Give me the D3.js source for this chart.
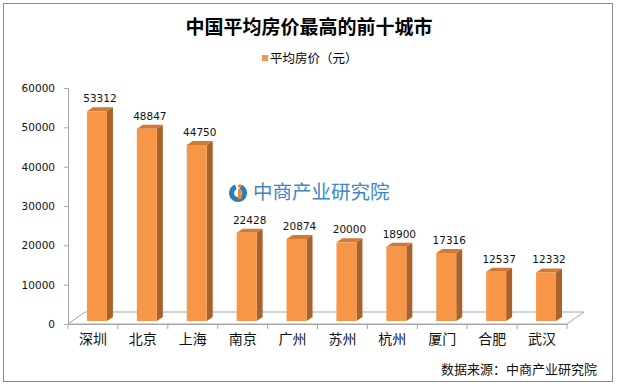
<!DOCTYPE html>
<html>
<head>
<meta charset="utf-8">
<script src="https://cdn.jsdelivr.net/npm/d3@7"></script>
<style>
  body { margin: 0; background: #fff; }
  svg { display: block; }
  .cn { font-family: "Noto Sans CJK SC", "Noto Sans", sans-serif; }
  .num { font-family: "DejaVu Sans", sans-serif; font-size: 10.5px; fill: #111; }
</style>
</head>
<body>
<svg id="chart" width="618" height="388"></svg>
<script>
// data
const cities = ["深圳", "北京", "上海", "南京", "广州", "苏州", "杭州", "厦门", "合肥", "武汉"];
const prices = [53312, 48847, 44750, 22428, 20874, 20000, 18900, 17316, 12537, 12332];
const yTicks = [0, 10000, 20000, 30000, 40000, 50000, 60000];

const svg = d3.select("#chart");

// outer frame
svg.append("rect")
    .attr("x", 3.5).attr("y", 3.5)
    .attr("width", 609).attr("height", 378)
    .attr("fill", "#fff")
    .attr("stroke", "#8c8c8c");

// title + legend
svg.append("text").attr("class", "cn")
    .attr("x", 309).attr("y", 34)
    .attr("text-anchor", "middle")
    .style("font-size", "19px").style("font-weight", "bold")
    .text("中国平均房价最高的前十城市");

svg.append("rect").attr("x", 262).attr("y", 55).attr("width", 6).attr("height", 6).attr("fill", "#f79646");
svg.append("text").attr("class", "cn")
    .attr("x", 270).attr("y", 63)
    .style("font-size", "12.5px")
    .text("平均房价（元）");

// scales
let x = d3.scaleBand().domain(cities).range([68, 567]);
let y = d3.scaleLinear().domain([0, 60000]).range([324, 88]);

const depth = [17, -12];   // floor depth
const barOff = [4, -3];    // bar front face inset
const barDepth = [6, -4];
const bw = x.bandwidth() * 0.4;

// floor
let x0 = x.range()[0], x1 = x.range()[1], yf = y(0);
svg.append("path")
    .attr("d", "M" + x0 + "," + yf + "L" + x1 + "," + yf
        + "L" + (x1 + depth[0]) + "," + (yf + depth[1])
        + "L" + (x0 + depth[0]) + "," + (yf + depth[1]) + "Z")
    .attr("fill", "none")
    .attr("stroke", "#a6a6a6");

// y axis
let yAxis = svg.append("g")
    .attr("transform", "translate(" + x0 + ",0)")
    .call(d3.axisLeft(y).tickValues(yTicks).tickSize(4).tickPadding(9).tickFormat(d3.format("d")));
yAxis.select(".domain").attr("stroke", "#a6a6a6");
yAxis.selectAll(".tick line").attr("stroke", "#a6a6a6");
yAxis.selectAll("text").attr("class", "num").attr("fill", "#111");

// x axis
let xAxis = svg.append("g")
    .attr("transform", "translate(0," + yf + ")")
    .call(d3.axisBottom(x).tickSize(0).tickPadding(10));
xAxis.select(".domain").attr("stroke", "#a6a6a6");
xAxis.selectAll("text").attr("class", "cn").style("font-size", "14px").attr("fill", "#111");
xAxis.selectAll(".sep")
    .data(cities.concat([null]))
    .enter().append("line")
    .attr("x1", function(d, i) { return x0 + i * x.step(); })
    .attr("x2", function(d, i) { return x0 + i * x.step(); })
    .attr("y1", 0).attr("y2", 5)
    .attr("stroke", "#a6a6a6");

// watermark logo
let logo = svg.append("g").attr("transform", "translate(238,193)");
logo.append("path")
    .attr("d", d3.arc().innerRadius(4).outerRadius(9).startAngle(0.35).endAngle(2 * Math.PI - 0.35)())
    .attr("transform", "rotate(0)")
    .attr("fill", "#2f7bbf");
logo.append("rect").attr("x", 0).attr("y", -4).attr("width", 3.5).attr("height", 10).attr("fill", "#f08a2c");
logo.append("circle").attr("cx", 1.7).attr("cy", -7).attr("r", 1.8).attr("fill", "#f08a2c");
svg.append("text").attr("class", "cn")
    .attr("x", 253).attr("y", 199)
    .style("font-size", "19.5px")
    .attr("fill", "#3f86c4")
    .text("中商产业研究院");

// bars
let bars = svg.selectAll(".bar")
    .data(cities.map(function(c, i) { return {city: c, value: prices[i]}; }))
    .enter().append("g").attr("class", "bar");

function fx(d) { return x(d.city) + (x.bandwidth() - bw) / 2 + barOff[0]; }
function fy(d) { return y(d.value) + barOff[1]; }
let fb = y(0) + barOff[1];

bars.append("path")   // side
    .attr("d", function(d) {
        let r = fx(d) + bw;
        return "M" + r + "," + fy(d) + "L" + (r + barDepth[0]) + "," + (fy(d) + barDepth[1])
            + "L" + (r + barDepth[0]) + "," + (fb + barDepth[1]) + "L" + r + "," + fb + "Z";
    })
    .attr("fill", "#ab6128");

bars.append("path")   // top
    .attr("d", function(d) {
        let l = fx(d), t = fy(d);
        return "M" + l + "," + t + "L" + (l + bw) + "," + t
            + "L" + (l + bw + barDepth[0]) + "," + (t + barDepth[1])
            + "L" + (l + barDepth[0]) + "," + (t + barDepth[1]) + "Z";
    })
    .attr("fill", "#cf7a36");

bars.append("rect")   // front
    .attr("x", fx)
    .attr("y", fy)
    .attr("width", bw)
    .attr("height", function(d) { return fb - fy(d); })
    .attr("fill", "#f79646");

bars.append("text")
    .attr("class", "num")
    .attr("x", function(d) { return fx(d) + bw / 2 + 3; })
    .attr("y", function(d) { return fy(d) - 9; })
    .attr("text-anchor", "middle")
    .text(function(d) { return d.value; });

// source note
svg.append("text").attr("class", "cn")
    .attr("x", 597).attr("y", 374)
    .attr("text-anchor", "end")
    .style("font-size", "13px")
    .attr("fill", "#111")
    .text("数据来源：中商产业研究院");
</script>
</body>
</html>
